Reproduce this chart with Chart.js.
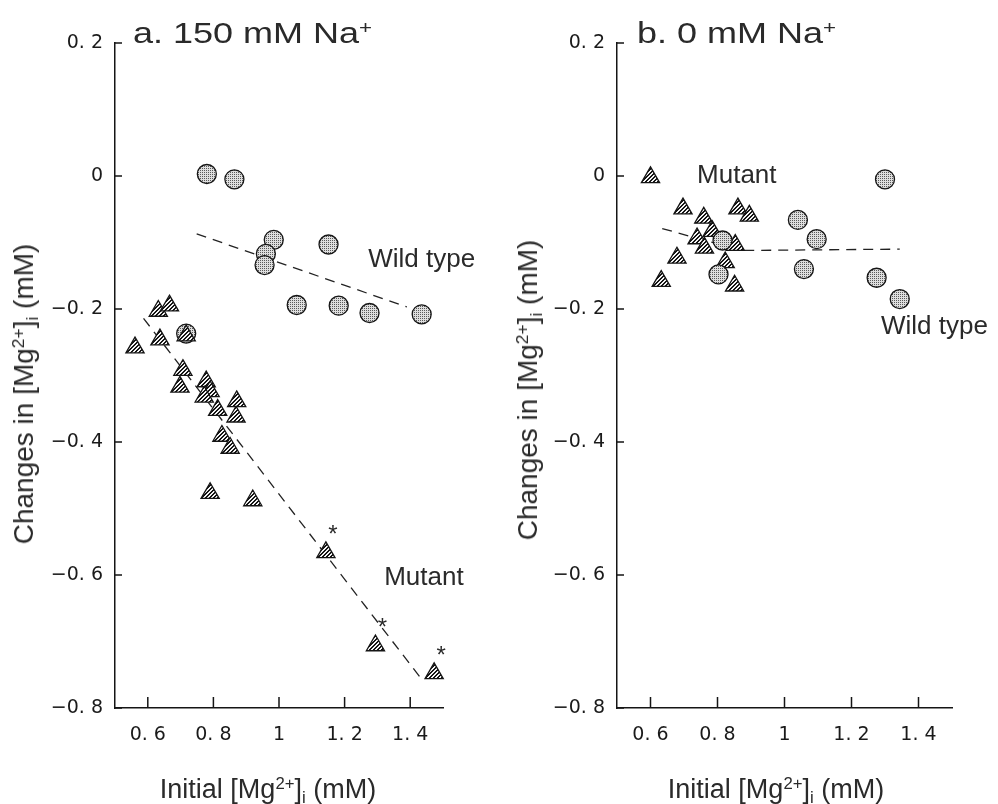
<!DOCTYPE html>
<html><head><meta charset="utf-8">
<script src="https://cdn.jsdelivr.net/npm/chart.js@4.4.1/dist/chart.umd.min.js"></script>
<style>
body{margin:0;background:#fff;width:998px;height:804px;position:relative;overflow:hidden;font-family:'Liberation Sans',Arial,sans-serif;color:#2a2a2a}
canvas{position:absolute;top:0}
.ttl{position:absolute;font-size:30px;line-height:30px;white-space:nowrap;transform-origin:0 0;transform:scaleX(1.2)}
.ax{position:absolute;white-space:nowrap;transform:translate(-50%,-50%)}
.xt{font-size:27px;line-height:27px}
.yt{font-size:28px;line-height:28px;transform:translate(-50%,-50%) rotate(-90deg)}
sup{font-size:0.62em;vertical-align:0.5em;line-height:0}
sub{font-size:0.62em;vertical-align:-0.3em;line-height:0}
</style></head>
<body>
<canvas id="ca" width="500" height="804" style="left:0"></canvas>
<canvas id="cb" width="498" height="804" style="left:500px"></canvas>
<div class="ttl" style="left:133px;top:18px">a. 150 mM Na<sup>+</sup></div>
<div class="ttl" style="left:637px;top:18px">b. 0 mM Na<sup>+</sup></div>
<div class="ax xt" style="left:268px;top:789px">Initial [Mg<sup>2+</sup>]<sub>i</sub> (mM)</div>
<div class="ax xt" style="left:776px;top:789px">Initial [Mg<sup>2+</sup>]<sub>i</sub> (mM)</div>
<div class="ax yt" style="left:24px;top:394px">Changes in [Mg<sup>2+</sup>]<sub>i</sub> (mM)</div>
<div class="ax yt" style="left:528px;top:390px">Changes in [Mg<sup>2+</sup>]<sub>i</sub> (mM)</div>
<script>
// ---- axis ticks ----
const xTickValues = [0.6, 0.8, 1.0, 1.2, 1.4];
const xTickLabels = ['0. 6', '0. 8', '1', '1. 2', '1. 4'];
const yTickValues = [-0.8, -0.6, -0.4, -0.2, 0, 0.2];
const yTickLabels = ['\u22120. 8', '\u22120. 6', '\u22120. 4', '\u22120. 2', '0', '0. 2'];

// ---- panel a: 150 mM Na+ ----
const wtA_x = [0.78, 0.864, 0.984, 0.96, 0.956, 1.151, 1.054, 1.182, 1.276, 1.435, 0.717];
const wtA_y = [0.003, -0.005, -0.096, -0.117, -0.134, -0.103, -0.194, -0.195, -0.206, -0.208, -0.237];
const mutA_x = [0.561, 0.632, 0.666, 0.637, 0.717, 0.707, 0.698, 0.778, 0.79, 0.772, 0.871, 0.813, 0.869, 0.826, 0.851, 0.79, 0.92, 1.143, 1.294, 1.473];
const mutA_y = [-0.258, -0.203, -0.195, -0.246, -0.24, -0.292, -0.317, -0.309, -0.324, -0.332, -0.339, -0.352, -0.362, -0.391, -0.409, -0.477, -0.488, -0.566, -0.706, -0.748];
const mutA_starred = [17, 18, 19];
const fitWtA_x = [0.749, 1.39];
const fitWtA_y = [-0.087, -0.197];
const fitMutA_x = [0.587, 1.44];
const fitMutA_y = [-0.214, -0.760];

// ---- panel b: 0 mM Na+ ----
const mutB_x = [0.6, 0.697, 0.759, 0.861, 0.895, 0.784, 0.739, 0.761, 0.853, 0.679, 0.823, 0.632, 0.851];
const mutB_y = [-0.002, -0.049, -0.063, -0.049, -0.060, -0.083, -0.094, -0.108, -0.104, -0.123, -0.130, -0.158, -0.165];
const wtB_x = [0.815, 0.803, 1.04, 1.096, 1.058, 1.30, 1.275, 1.344];
const wtB_y = [-0.097, -0.148, -0.066, -0.095, -0.14, -0.005, -0.153, -0.185];
const fitB_x = [0.635, 0.87, 1.344];
const fitB_y = [-0.079, -0.112, -0.110];

const pairs = (xs, ys) => xs.map((x, i) => ({x, y: ys[i]}));

function dotPattern() {
  const c = document.createElement('canvas'); c.width = 2; c.height = 2;
  const g = c.getContext('2d');
  g.fillStyle = '#dedede'; g.fillRect(0, 0, 2, 2);
  g.fillStyle = '#5a5a5a'; g.fillRect(0, 0, 1, 1);
  return g.createPattern(c, 'repeat');
}
function hatchPattern() {
  const c = document.createElement('canvas'); c.width = 4; c.height = 4;
  const g = c.getContext('2d');
  g.fillStyle = '#f4f4f4'; g.fillRect(0, 0, 4, 4);
  g.fillStyle = '#151515';
  for (let i = 0; i < 4; i++) for (let j = 0; j < 4; j++) if ((i + j) % 4 >= 2) g.fillRect(i, j, 1, 1);
  return g.createPattern(c, 'repeat');
}
const DOTS = dotPattern(), HATCH = hatchPattern();

const inwardTicks = {
  id: 'inwardTicks',
  afterDraw(chart) {
    const {ctx, chartArea: {left, bottom}} = chart;
    const xs = chart.scales.x, ys = chart.scales.y;
    ctx.save(); ctx.strokeStyle = '#151515'; ctx.lineWidth = 1.5;
    ctx.beginPath();
    xs.ticks.forEach(t => { const p = xs.getPixelForValue(t.value); ctx.moveTo(p, bottom); ctx.lineTo(p, bottom - 11); });
    ys.ticks.forEach(t => { const p = ys.getPixelForValue(t.value); ctx.moveTo(left, p); ctx.lineTo(left + 7, p); });
    ctx.stroke(); ctx.restore();
  }
};
const annot = {
  id: 'annot',
  afterDatasetsDraw(chart, args, opts) {
    const {ctx} = chart; const xs = chart.scales.x, ys = chart.scales.y;
    ctx.save(); ctx.fillStyle = '#2a2a2a';
    (opts.labels || []).forEach(l => {
      ctx.font = '26px "Liberation Sans", Arial, sans-serif';
      ctx.textAlign = 'left'; ctx.textBaseline = 'alphabetic';
      ctx.fillText(l.text, xs.getPixelForValue(l.x), ys.getPixelForValue(l.y));
    });
    if (opts.stars) {
      const meta = chart.getDatasetMeta(opts.stars.dataset);
      ctx.font = '24px "Liberation Sans", Arial, sans-serif';
      ctx.textAlign = 'center'; ctx.textBaseline = 'alphabetic';
      opts.stars.indices.forEach(i => { const p = meta.data[i]; ctx.fillText('*', p.x + 7, p.y - 10); });
    }
    ctx.restore();
  }
};

function makeChart(id, datasets, yAxisWidth, padRight, annotOpts) {
  return new Chart(document.getElementById(id), {
    type: 'scatter',
    data: {datasets},
    plugins: [inwardTicks, annot],
    options: {
      responsive: false, animation: false, events: [],
      layout: {padding: {left: 0, top: 43, right: padRight, bottom: 0}},
      plugins: {legend: {display: false}, tooltip: {enabled: false}, annot: annotOpts},
      scales: {
        x: {
          type: 'linear', min: 0.5, max: 1.5,
          afterBuildTicks: s => { s.ticks = xTickValues.map(v => ({value: v})); },
          afterFit: s => { s.height = 96; },
          ticks: {callback: (v, i) => xTickLabels[i], color: '#1a1a1a', padding: 16,
                  font: {family: '"DejaVu Sans", sans-serif', size: 19}, maxRotation: 0, autoSkip: false},
          grid: {display: true, drawOnChartArea: false, drawTicks: false},
          border: {display: true, color: '#151515', width: 1.5}
        },
        y: {
          type: 'linear', min: -0.8, max: 0.2,
          afterBuildTicks: s => { s.ticks = yTickValues.map(v => ({value: v})); },
          afterFit: s => { s.width = yAxisWidth; },
          ticks: {callback: (v, i) => yTickLabels[i], color: '#1a1a1a', padding: 12,
                  font: {family: '"DejaVu Sans", sans-serif', size: 19}, autoSkip: false},
          grid: {display: true, drawOnChartArea: false, drawTicks: false},
          border: {display: true, color: '#151515', width: 1.5}
        }
      }
    }
  });
}

const lineStyle = {showLine: true, borderDash: [10, 7], borderColor: '#222', borderWidth: 1.3, pointRadius: 0, fill: false, clip: false};
const wtStyle = {pointStyle: 'circle', pointRadius: 9.5, backgroundColor: DOTS, borderColor: '#151515', borderWidth: 1.3, clip: false};
const mutStyle = {pointStyle: 'triangle', pointRadius: 10.5, backgroundColor: HATCH, borderColor: '#151515', borderWidth: 1.3, clip: false};

makeChart('ca', [
  Object.assign({label: 'Mutant', data: pairs(mutA_x, mutA_y), order: 1}, mutStyle),
  Object.assign({label: 'Wild type', data: pairs(wtA_x, wtA_y), order: 2}, wtStyle),
  Object.assign({label: 'Wild type fit', data: pairs(fitWtA_x, fitWtA_y), order: 3}, lineStyle),
  Object.assign({label: 'Mutant fit', data: pairs(fitMutA_x, fitMutA_y), order: 3}, lineStyle)
], 115, 57, {
  labels: [{text: 'Wild type', x: 1.272, y: -0.137}, {text: 'Mutant', x: 1.3206, y: -0.615}],
  stars: {dataset: 0, indices: mutA_starred}
});

makeChart('cb', [
  Object.assign({label: 'Wild type', data: pairs(wtB_x, wtB_y), order: 1}, wtStyle),
  Object.assign({label: 'Mutant', data: pairs(mutB_x, mutB_y), order: 2}, mutStyle),
  Object.assign({label: 'Fit', data: pairs(fitB_x, fitB_y), order: 3}, lineStyle)
], 117, 46, {
  labels: [{text: 'Mutant', x: 0.739, y: -0.0105}, {text: 'Wild type', x: 1.288, y: -0.238}]
});
</script>
</body></html>
